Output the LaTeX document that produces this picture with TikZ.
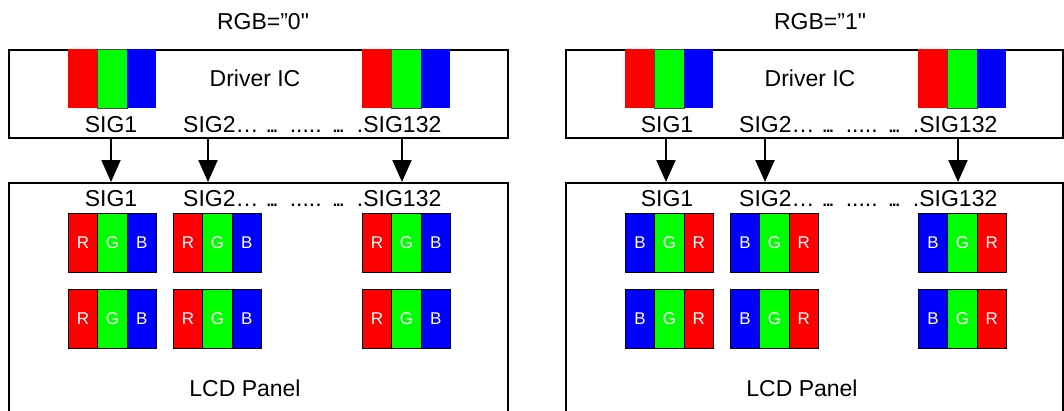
\documentclass[tikz,border=0pt]{standalone}
\usepackage{fontspec}
\setmainfont{Liberation Sans}
\newfontfamily\qfont{Liberation Sans}[Ligatures=TeXOff]
\usetikzlibrary{arrows.meta}
\definecolor{pr}{RGB}{255,0,0}
\definecolor{pg}{RGB}{0,255,0}
\definecolor{pb}{RGB}{0,0,255}
\tikzset{
  box/.style={draw, line width=2pt, inner sep=0pt, fill=white},
  cell/.style={draw=black, line width=0.8pt, minimum width=29.33pt, minimum height=59pt,
    inner sep=0pt, anchor=north west, text=white, font=\fontsize{17}{20}\selectfont},
  dcell/.style={cell, draw=black!70, line width=0.5pt},
  lbl/.style={font=\fontsize{23}{27}\selectfont, inner sep=0pt},
  sig/.style={-{Triangle[width=19pt,length=22pt]}, line width=2pt},
}
\newcommand\tightdots{.\kern-3pt.\kern-3pt.}
\newcommand\sigline{SIG2…\hspace{7pt}\tightdots\hspace{11pt}.....\hspace{10pt}\tightdots\hspace{12pt}.SIG132}
\newcommand\rgbblk[3]{%
  \node[cell,fill=pr] (#1r) at (#2,#3) {R};
  \node[cell,fill=pg] (#1g) at (#2+29.33,#3) {G};
  \node[cell,fill=pb] (#1b) at (#2+58.67,#3) {B};}
\newcommand\bgrblk[3]{%
  \node[cell,fill=pb] (#1b) at (#2,#3) {B};
  \node[cell,fill=pg] (#1g) at (#2+29.33,#3) {G};
  \node[cell,fill=pr] (#1r) at (#2+58.67,#3) {R};}
\newcommand\drvblk[3]{%
  \node[dcell,fill=pr,draw=none] (#1r) at (#2,#3) {};
  \node[dcell,fill=pg] (#1g) at (#2+29.33,#3) {};
  \node[dcell,fill=pb,draw=none] (#1b) at (#2+58.67,#3) {};}
\begin{document}
\begin{tikzpicture}[x=1pt,y=-1pt]
\useasboundingbox (0,0) rectangle (1064,410);
\clip (0,0) rectangle (1064,410);
% ---------- left: RGB = 0 ----------
\node[lbl] (tL) at (263,22) {\qfont RGB=”0"};
\node[box, minimum width=499pt, minimum height=88pt] (drvL) at (258.5,94) {};
\node[box, minimum width=499pt, minimum height=257pt] (lcdL) at (258.5,311.5) {};
\drvblk{dLa}{68}{49}
\drvblk{dLb}{362}{49}
\node[lbl] (icL) at (255,78) {Driver IC};
\node[lbl] (s1L) at (111,125) {SIG1};
\node[lbl, anchor=west] (s2L) at (183,125) {\sigline};
\node[lbl] (p1L) at (111,199) {SIG1};
\node[lbl, anchor=west] (p2L) at (183,199) {\sigline};
\coordinate (aL1) at (111,0);
\coordinate (aL2) at (208,0);
\coordinate (aL3) at (402,0);
\foreach \k in {1,2,3} \draw[sig] (drvL.south -| aL\k) -- (lcdL.north -| aL\k);
\rgbblk{L11}{68}{213}
\rgbblk{L12}{173}{213}
\rgbblk{L13}{362}{213}
\rgbblk{L21}{68}{289}
\rgbblk{L22}{173}{289}
\rgbblk{L23}{362}{289}
\node[lbl] (pnL) at (245,388) {LCD Panel};
% ---------- right: RGB = 1 ----------
\node[lbl] (tR) at (820,22) {\qfont RGB=”1"};
\node[box, minimum width=497pt, minimum height=88pt] (drvR) at (814.5,94) {};
\node[box, minimum width=497pt, minimum height=257pt] (lcdR) at (814.5,311.5) {};
\drvblk{dRa}{625}{49}
\drvblk{dRb}{918}{49}
\node[lbl] (icR) at (810,78) {Driver IC};
\node[lbl] (s1R) at (667,125) {SIG1};
\node[lbl, anchor=west] (s2R) at (739,125) {\sigline};
\node[lbl] (p1R) at (667,199) {SIG1};
\node[lbl, anchor=west] (p2R) at (739,199) {\sigline};
\coordinate (aR1) at (666,0);
\coordinate (aR2) at (765,0);
\coordinate (aR3) at (958,0);
\foreach \k in {1,2,3} \draw[sig] (drvR.south -| aR\k) -- (lcdR.north -| aR\k);
\bgrblk{R11}{625}{213}
\bgrblk{R12}{730}{213}
\bgrblk{R13}{918}{213}
\bgrblk{R21}{625}{289}
\bgrblk{R22}{730}{289}
\bgrblk{R23}{918}{289}
\node[lbl] (pnR) at (802,388) {LCD Panel};
\end{tikzpicture}
\end{document}
